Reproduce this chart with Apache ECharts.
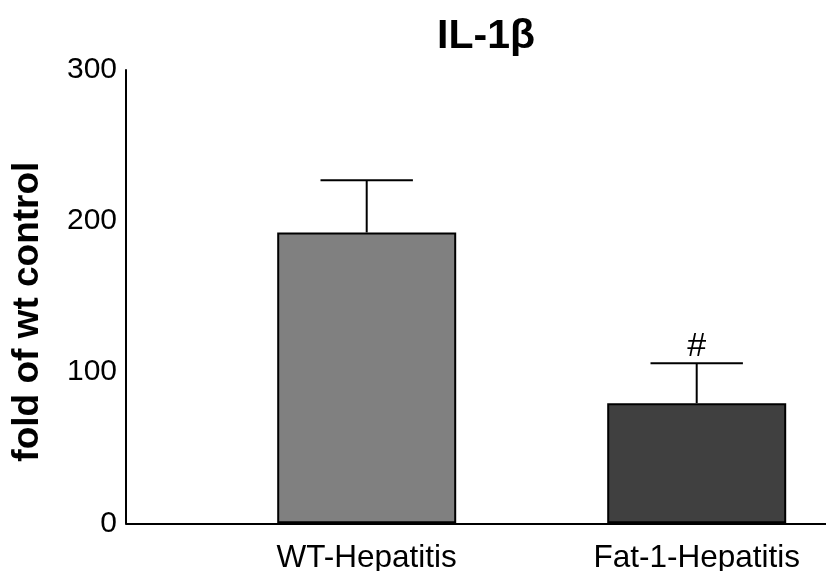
<!DOCTYPE html>
<html>
<head>
<meta charset="utf-8">
<script src="https://cdn.jsdelivr.net/npm/echarts@6/dist/echarts.min.js"></script>
<style>html,body{margin:0;padding:0;background:#fff}#c{width:826px;height:571px}</style>
</head>
<body>
<div id="c"></div>
<script>
const titleText = 'IL-1β';
const yAxisTitle = 'fold of wt control';
const categories = ['WT-Hepatitis', 'Fat-1-Hepatitis'];
const categoryPos = [0, 1];
const means = [192.5, 79.5];
const errorTops = [227, 106];
const annotations = ['', '#'];
const barColors = ['#808080', '#404040'];
const yMin = 0, yMax = 300, yStep = 100;

const FONT = '"Liberation Sans", Arial, Helvetica, sans-serif';
const chart = echarts.init(document.getElementById('c'), null, {renderer: 'canvas'});

const errData = categories.map((c, i) => [categoryPos[i], means[i], errorTops[i], annotations[i]]);

chart.setOption({
  animation: false,
  backgroundColor: '#ffffff',
  title: {
    text: titleText,
    left: 481, top: 11, textAlign: 'center',
    textStyle: {fontFamily: FONT, fontSize: 41, fontWeight: 'bold', color: '#000'}
  },
  grid: {left: 126, right: 0, top: 70, bottom: 47.7, containLabel: false, outerBoundsMode: 'none'},
  xAxis: {
    type: 'value', min: -0.7294, max: 1.3918,
    axisLine: {show: true, onZero: false, lineStyle: {color: '#000', width: 2}},
    axisTick: {show: false}, splitLine: {show: false},
    axisLabel: {
      customValues: categoryPos,
      formatter: function (v) { const i = categoryPos.indexOf(Math.round(v)); return i >= 0 ? categories[i] : ''; },
      margin: 19, fontFamily: FONT, fontSize: 31.5, color: '#000'
    }
  },
  yAxis: {
    type: 'value', min: yMin, max: yMax, interval: yStep,
    name: yAxisTitle, nameLocation: 'middle', nameGap: 80, nameRotate: 90,
    nameTextStyle: {fontFamily: FONT, fontSize: 37, fontWeight: 'bold', color: '#000', padding: [0, 30, 0, 0]},
    axisLine: {show: true, onZero: false, lineStyle: {color: '#000', width: 2}},
    axisTick: {show: false}, splitLine: {show: false},
    axisLabel: {margin: 9, fontFamily: FONT, fontSize: 30, color: '#000'}
  },
  series: [
    {
      type: 'bar', barWidth: 179,
      data: means.map((v, i) => ({value: [categoryPos[i], v], itemStyle: {color: barColors[i]}})),
      itemStyle: {borderColor: '#000', borderWidth: 2},
      z: 2
    },
    {
      type: 'custom', z: 3,
      data: errData,
      renderItem: function (params, api) {
        const x = api.value(0);
        const base = api.coord([x, api.value(1)]);
        const top = api.coord([x, api.value(2)]);
        const half = api.size([1, 0])[0] * 0.14;
        const note = errData[params.dataIndex][3];
        const style = {stroke: '#000', lineWidth: 2};
        const children = [
          {type: 'line', shape: {x1: base[0], y1: base[1], x2: top[0], y2: top[1]}, style: style},
          {type: 'line', shape: {x1: top[0] - half, y1: top[1], x2: top[0] + half, y2: top[1]}, style: style}
        ];
        if (note) {
          children.push({type: 'text', style: {text: note, x: top[0], y: top[1],
            align: 'center', verticalAlign: 'bottom', font: '34px ' + FONT, fill: '#000'}});
        }
        return {type: 'group', children: children};
      }
    }
  ]
});
</script>
</body>
</html>
